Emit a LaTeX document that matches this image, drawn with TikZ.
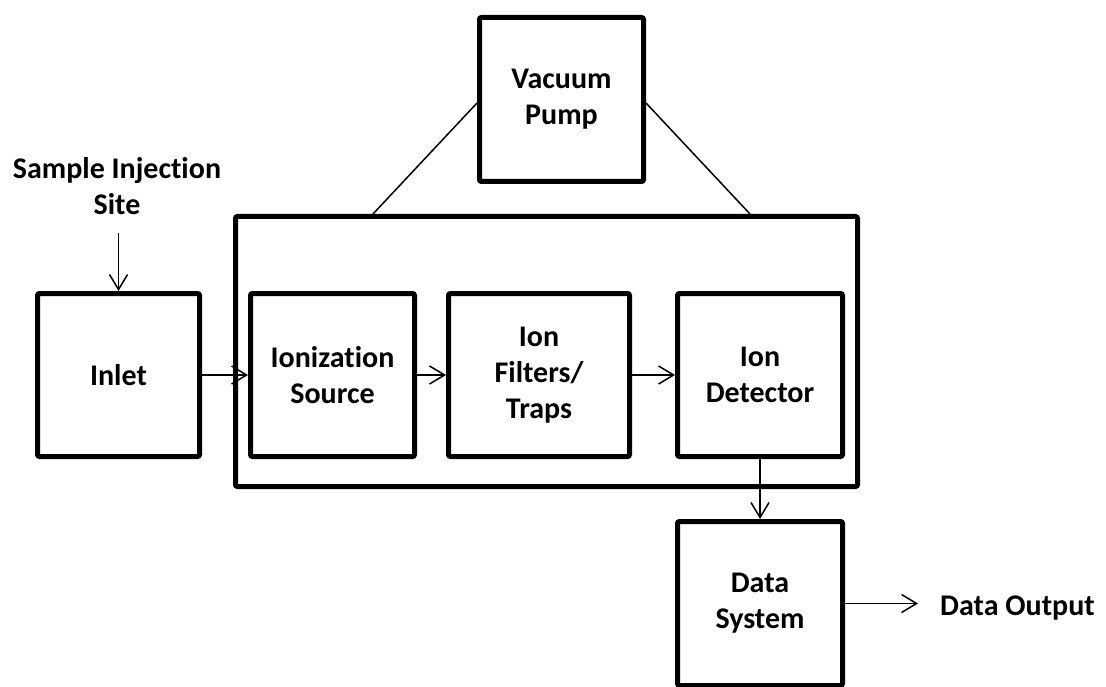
\documentclass[tikz,border=0pt]{standalone}
\usepackage{fontspec}
\setmainfont{Carlito}[Ligatures={NoCommon}]
\usetikzlibrary{arrows.meta}
\begin{document}
\begin{tikzpicture}[x=1pt,y=-1pt,
  txt/.style={font=\bfseries\fontsize{30}{36}\selectfont, align=center},
  box/.style={txt, draw, line width=5pt, rounded corners=2pt, inner sep=0pt},
  conn/.style={line width=1.5pt},
  arr/.style={conn, -{Straight Barb[length=15pt,width=18pt,line width=1.5pt]}}]
\useasboundingbox (0,0) rectangle (1106,687);
% boxes
\node[box, minimum width=622pt, minimum height=270pt] (big) at (546.5,351.5) {};
\node[box, minimum width=164pt, minimum height=164pt] (vac) at (561.5,99.5) {Vacuum\\Pump};
\node[box, minimum width=162pt, minimum height=163pt] (inlet) at (118.5,375) {Inlet};
\node[box, minimum width=164pt, minimum height=163pt] (ion) at (332.5,375) {Ionization\\Source};
\node[box, minimum width=181pt, minimum height=163pt] (filt) at (539,375) {Ion\\Filters/\\Traps};
\node[box, minimum width=165pt, minimum height=163pt] (det) at (760,375) {Ion\\Detector};
\node[box, minimum width=165pt, minimum height=164pt] (data) at (760,603.5) {Data\\System};
% labels
\node[txt, inner sep=0pt] (sample) at (117,186) {Sample Injection\\Site};
\node[txt, inner sep=0pt, anchor=base west] (out) at (940,615) {Data Output};
% vacuum connections
\coordinate (vl) at ([xshift=-173.5pt]big.north);
\coordinate (vr) at ([xshift=203.5pt]big.north);
\draw[conn] ([yshift=-3.5pt]vac.west) -- (vl);
\draw[conn] ([yshift=-3.5pt]vac.east) -- (vr);
% arrows
\draw[arr, shorten <=18pt] (inlet.north |- sample.south) -- (inlet.north);
\draw[arr] (inlet.east) -- (ion.west);
\draw[arr] (ion.east) -- (filt.west);
\draw[arr] (filt.east) -- (det.west);
\draw[arr] (det.south) -- (data.north);
\draw[arr, shorten >=22pt] (data.east) -- (data.east -| out.west);
\end{tikzpicture}
\end{document}
